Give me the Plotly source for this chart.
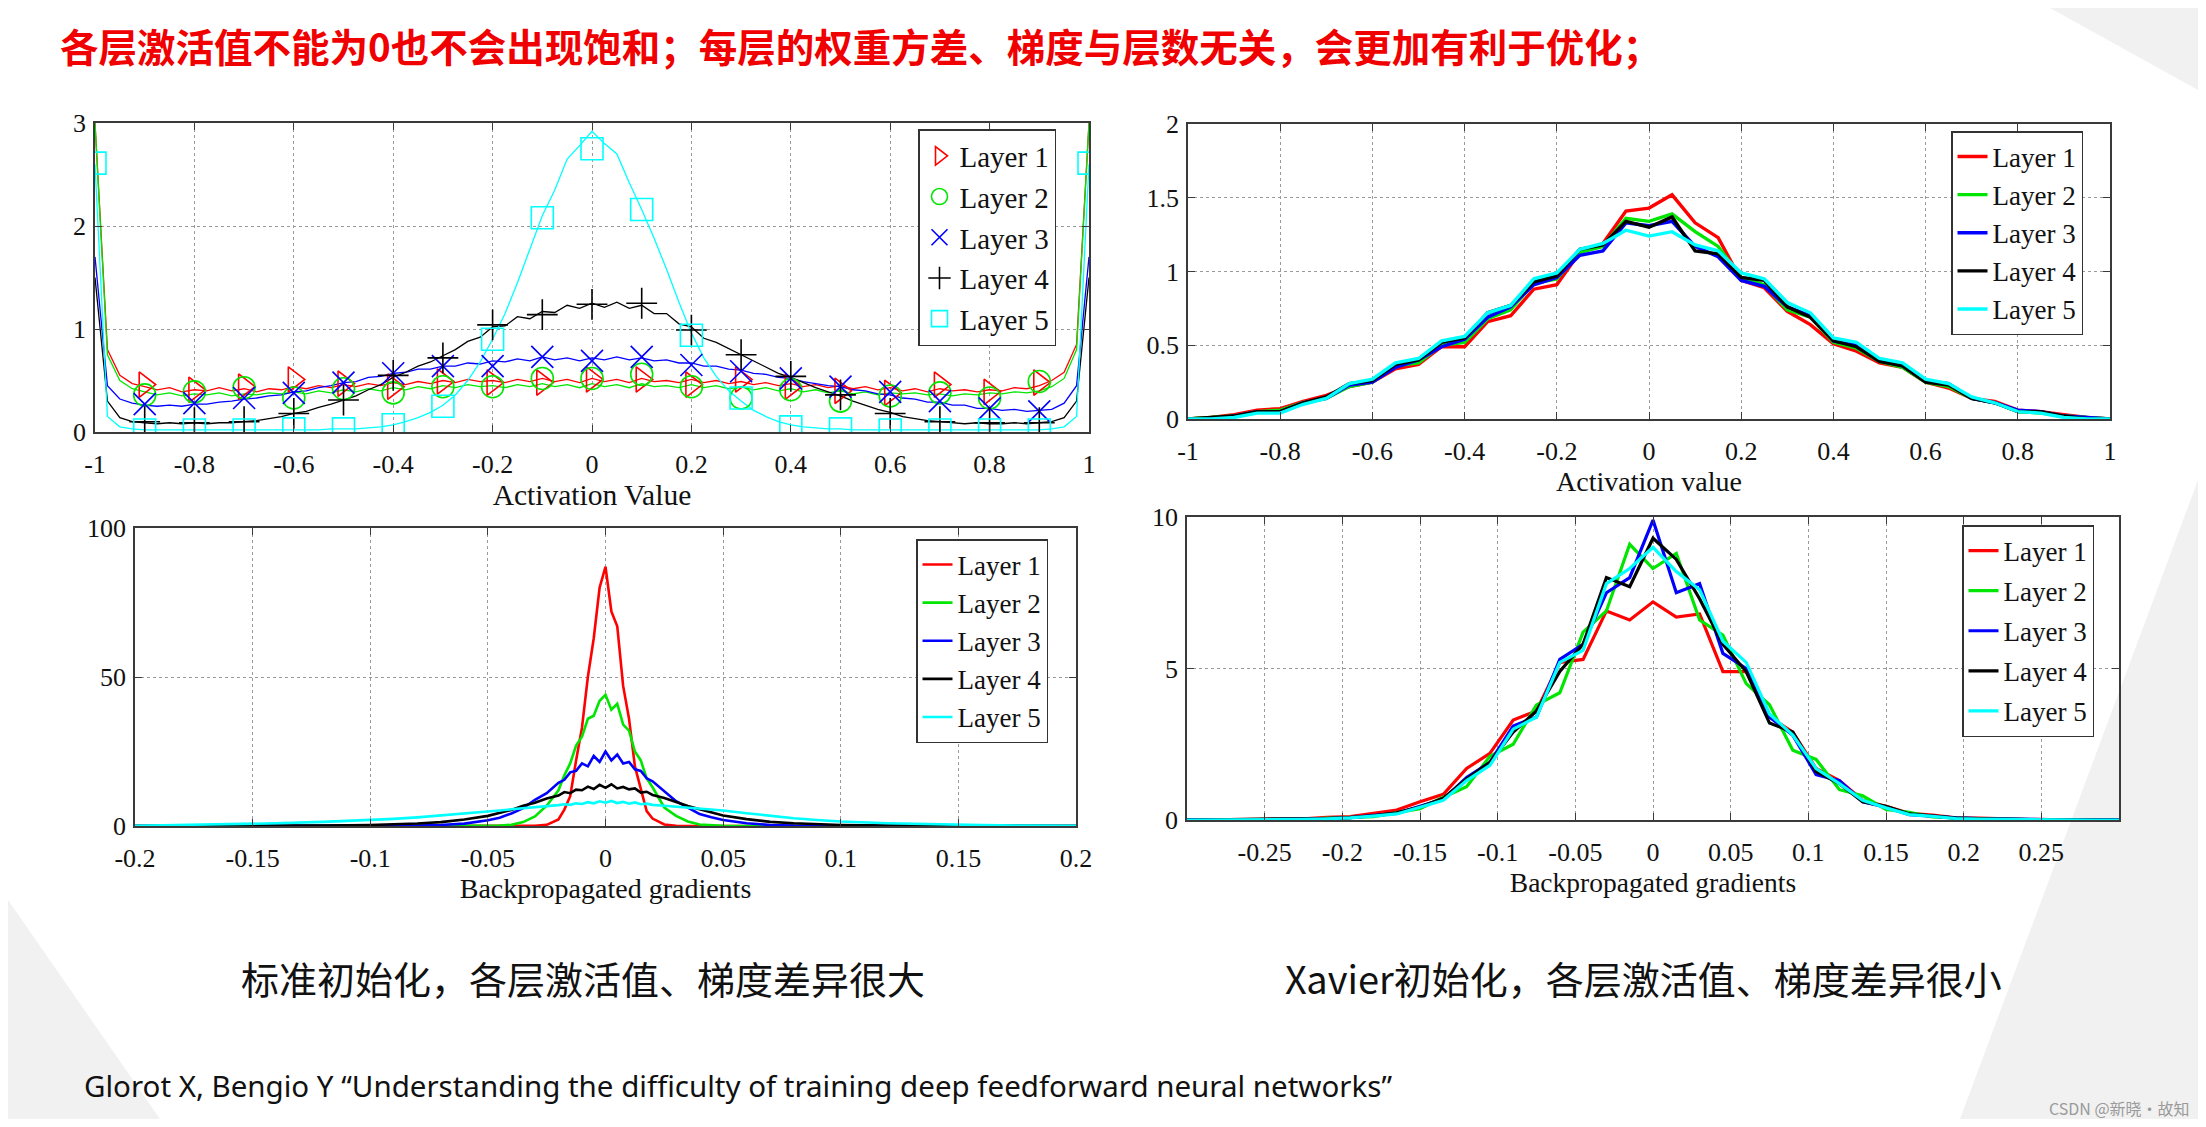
import numpy as np
import plotly.graph_objects as go

# ---------------- data ----------------
LAYERS = ["Layer 1", "Layer 2", "Layer 3", "Layer 4", "Layer 5"]
COLORS = ["#ff0000", "#00e600", "#0000ff", "#000000", "#00ffff"]

# Top-left: standard init, activation values (histogram sampled every 0.025)
x_tl = np.round(np.linspace(-1, 1, 81), 3)
tl_l1 = [3.0, 0.80, 0.55, 0.47, 0.44, 0.41, 0.43, 0.39, 0.41, 0.40,
         0.43, 0.40, 0.42, 0.39, 0.42, 0.41, 0.44, 0.42, 0.45, 0.43,
         0.46, 0.44, 0.47, 0.45, 0.48, 0.46, 0.49, 0.47, 0.50, 0.48,
         0.51, 0.49, 0.50, 0.48, 0.51, 0.49, 0.52, 0.49, 0.51, 0.48,
         0.52, 0.49, 0.51, 0.48, 0.52, 0.49, 0.50, 0.48, 0.51, 0.48,
         0.50, 0.47, 0.49, 0.46, 0.48, 0.45, 0.47, 0.44, 0.46, 0.43,
         0.45, 0.42, 0.44, 0.41, 0.43, 0.40, 0.42, 0.39, 0.42, 0.40,
         0.41, 0.39, 0.41, 0.40, 0.43, 0.42, 0.45, 0.50, 0.58, 0.85,
         3.0]
tl_l2 = [3.0, 0.75, 0.50, 0.42, 0.39, 0.36, 0.38, 0.35, 0.37, 0.36,
         0.38, 0.35, 0.37, 0.36, 0.38, 0.37, 0.39, 0.37, 0.40, 0.38,
         0.41, 0.39, 0.42, 0.40, 0.43, 0.41, 0.44, 0.42, 0.45, 0.43,
         0.46, 0.44, 0.45, 0.43, 0.46, 0.44, 0.47, 0.44, 0.46, 0.43,
         0.47, 0.44, 0.46, 0.43, 0.47, 0.44, 0.45, 0.43, 0.46, 0.43,
         0.45, 0.42, 0.44, 0.41, 0.43, 0.40, 0.42, 0.39, 0.41, 0.38,
         0.40, 0.37, 0.39, 0.36, 0.38, 0.37, 0.38, 0.36, 0.37, 0.35,
         0.37, 0.36, 0.38, 0.37, 0.39, 0.38, 0.40, 0.44, 0.52, 0.80,
         3.0]
tl_l3 = [1.7, 0.45, 0.32, 0.28, 0.26, 0.25, 0.26, 0.25, 0.27, 0.27,
         0.29, 0.30, 0.32, 0.33, 0.35, 0.36, 0.39, 0.40, 0.43, 0.45,
         0.48, 0.49, 0.53, 0.54, 0.57, 0.58, 0.61, 0.61, 0.64, 0.64,
         0.67, 0.66, 0.69, 0.68, 0.71, 0.69, 0.73, 0.70, 0.72, 0.69,
         0.72, 0.70, 0.73, 0.70, 0.72, 0.69, 0.70, 0.67, 0.67, 0.64,
         0.64, 0.61, 0.60, 0.57, 0.56, 0.53, 0.52, 0.49, 0.47, 0.45,
         0.44, 0.41, 0.40, 0.37, 0.36, 0.33, 0.32, 0.29, 0.29, 0.26,
         0.26, 0.23, 0.23, 0.21, 0.22, 0.20, 0.21, 0.22, 0.28, 0.45,
         1.7]
tl_l4 = [1.5, 0.30, 0.14, 0.10, 0.09, 0.08, 0.09, 0.08, 0.09, 0.08,
         0.09, 0.09, 0.10, 0.11, 0.13, 0.15, 0.18, 0.20, 0.24, 0.27,
         0.31, 0.35, 0.41, 0.46, 0.53, 0.58, 0.64, 0.68, 0.74, 0.80,
         0.88, 0.92, 1.02, 1.03, 1.12, 1.10, 1.17, 1.16, 1.23, 1.20,
         1.25, 1.21, 1.26, 1.20, 1.23, 1.15, 1.15, 1.05, 1.02, 0.91,
         0.87, 0.81, 0.75, 0.69, 0.63, 0.57, 0.53, 0.48, 0.43, 0.39,
         0.35, 0.30, 0.26, 0.22, 0.19, 0.15, 0.13, 0.11, 0.10, 0.09,
         0.08, 0.09, 0.08, 0.08, 0.09, 0.08, 0.09, 0.10, 0.14, 0.30,
         1.5]
tl_l5 = [2.6, 0.15, 0.05, 0.03, 0.02, 0.02, 0.02, 0.02, 0.02, 0.02,
         0.02, 0.02, 0.02, 0.02, 0.02, 0.02, 0.02, 0.02, 0.02, 0.03,
         0.03, 0.03, 0.04, 0.05, 0.07, 0.10, 0.14, 0.19, 0.26, 0.36,
         0.50, 0.68, 0.90, 1.15, 1.45, 1.78, 2.10, 2.35, 2.65, 2.78,
         2.92, 2.80, 2.70, 2.42, 2.16, 1.88, 1.58, 1.26, 0.96, 0.72,
         0.54, 0.40, 0.30, 0.21, 0.15, 0.10, 0.07, 0.05, 0.04, 0.03,
         0.03, 0.02, 0.02, 0.02, 0.02, 0.02, 0.02, 0.02, 0.02, 0.02,
         0.02, 0.02, 0.02, 0.02, 0.02, 0.02, 0.02, 0.03, 0.05, 0.15,
         2.6]
# marker positions on the top-left curves
tl_mark_x = np.round(np.linspace(-0.9, 0.9, 19), 2)
tl_mark_l1 = [0.46, 0.41, 0.44, 0.51, 0.47, 0.44, 0.49, 0.48, 0.48, 0.51,
              0.51, 0.46, 0.51, 0.44, 0.40, 0.38, 0.46, 0.39, 0.48]
tl_mark_l2 = [0.36, 0.39, 0.43, 0.33, 0.42, 0.38, 0.44, 0.44, 0.52, 0.52,
              0.56, 0.44, 0.33, 0.41, 0.30, 0.35, 0.38, 0.33, 0.49]
tl_mark_l3 = [0.27, 0.28, 0.33, 0.38, 0.48, 0.57, 0.64, 0.64, 0.73, 0.69,
              0.73, 0.65, 0.59, 0.52, 0.44, 0.39, 0.30, 0.23, 0.20]
tl_mark_l4 = [0.10, 0.09, 0.10, 0.18, 0.31, 0.55, 0.72, 1.04, 1.14, 1.24,
              1.25, 0.99, 0.75, 0.54, 0.36, 0.18, 0.10, 0.09, 0.09]
tl_mark5_x = np.round(np.linspace(-1, 1, 21), 2)
tl_mark_l5 = [2.61, 0.02, 0.02, 0.02, 0.03, 0.03, 0.07, 0.25, 0.90, 2.08,
              2.75, 2.16, 0.94, 0.33, 0.05, 0.03, 0.02, 0.02, 0.02, 0.02,
              2.61]

# Top-right: Xavier init, activation values (every 0.05)
x_tr = np.round(np.linspace(-1, 1, 41), 3)
tr_l1 = [0.00, 0.01, 0.03, 0.06, 0.07, 0.12, 0.16, 0.22, 0.25, 0.34,
         0.37, 0.49, 0.49, 0.66, 0.70, 0.88, 0.91, 1.13, 1.19, 1.41,
         1.43, 1.52, 1.33, 1.23, 0.94, 0.89, 0.73, 0.64, 0.51, 0.46,
         0.38, 0.35, 0.25, 0.21, 0.14, 0.12, 0.06, 0.05, 0.03, 0.01,
         0.00]
tr_l2 = [0.00, 0.01, 0.02, 0.05, 0.06, 0.11, 0.14, 0.22, 0.25, 0.36,
         0.38, 0.50, 0.52, 0.68, 0.74, 0.92, 0.95, 1.13, 1.17, 1.36,
         1.34, 1.39, 1.27, 1.17, 0.96, 0.91, 0.74, 0.69, 0.52, 0.48,
         0.39, 0.35, 0.25, 0.22, 0.14, 0.11, 0.05, 0.04, 0.02, 0.01,
         0.00]
tr_l3 = [0.00, 0.00, 0.02, 0.05, 0.05, 0.11, 0.14, 0.23, 0.25, 0.35,
         0.40, 0.49, 0.54, 0.69, 0.76, 0.91, 0.96, 1.11, 1.14, 1.33,
         1.31, 1.34, 1.17, 1.10, 0.94, 0.90, 0.76, 0.70, 0.53, 0.50,
         0.40, 0.36, 0.26, 0.24, 0.14, 0.11, 0.06, 0.05, 0.02, 0.01,
         0.00]
tr_l4 = [0.00, 0.01, 0.02, 0.05, 0.05, 0.11, 0.15, 0.24, 0.26, 0.37,
         0.40, 0.52, 0.55, 0.72, 0.77, 0.93, 0.97, 1.15, 1.18, 1.34,
         1.30, 1.37, 1.14, 1.12, 0.96, 0.94, 0.76, 0.69, 0.53, 0.49,
         0.39, 0.36, 0.25, 0.23, 0.14, 0.11, 0.05, 0.05, 0.02, 0.00,
         0.00]
tr_l5 = [0.00, 0.00, 0.01, 0.04, 0.04, 0.10, 0.14, 0.24, 0.27, 0.38,
         0.41, 0.53, 0.56, 0.72, 0.77, 0.95, 0.99, 1.15, 1.19, 1.28,
         1.24, 1.27, 1.18, 1.14, 0.99, 0.95, 0.79, 0.72, 0.55, 0.52,
         0.41, 0.38, 0.27, 0.24, 0.15, 0.11, 0.05, 0.04, 0.01, 0.00,
         0.00]

# Bottom-left: standard init, backpropagated gradients
x_bl = [-0.2, -0.18, -0.16, -0.14, -0.12, -0.1, -0.09, -0.08, -0.07, -0.06,
        -0.05, -0.045, -0.04, -0.035, -0.03, -0.025, -0.02, -0.0175, -0.015, -0.0125,
        -0.01, -0.0075, -0.005, -0.0025, 0.0, 0.0025, 0.005, 0.0075, 0.01, 0.0125,
        0.015, 0.0175, 0.02, 0.025, 0.03, 0.035, 0.04, 0.045, 0.05, 0.06,
        0.07, 0.08, 0.09, 0.1, 0.12, 0.14, 0.16, 0.18, 0.2]
bl_l1 = [0, 0, 0, 0, 0, 0, 0, 0, 0, 0,
         0, 0, 0, 0, 0.05, 0.4, 2.2, 5.5, 10, 22,
         33, 50, 63, 80, 87, 72, 67, 47, 36, 20,
         12, 5, 2.5, 0.5, 0.05, 0, 0, 0, 0, 0,
         0, 0, 0, 0, 0, 0, 0, 0, 0]
bl_l2 = [0, 0, 0, 0, 0, 0, 0, 0, 0, 0,
         0.05, 0.15, 0.4, 1.3, 3.2, 6.8, 12, 17, 21, 27,
         30, 36, 37, 42, 44, 39, 41, 34, 32, 25,
         22, 16, 13, 6.2, 3.4, 1.5, 0.5, 0.2, 0.05, 0,
         0, 0, 0, 0, 0, 0, 0, 0, 0]
bl_l3 = [0, 0, 0, 0, 0.01, 0.05, 0.1, 0.15, 0.35, 0.8,
         1.9, 2.8, 4.2, 6.0, 8.8, 11, 14.5, 15.5, 18, 18.5,
         21, 20, 23.5, 21.5, 25, 22, 24, 21, 21.5, 19,
         18.5, 16, 15, 11.5, 8.3, 6.2, 4.0, 2.9, 2.0, 0.9,
         0.35, 0.15, 0.1, 0.05, 0.01, 0, 0, 0, 0]
bl_l4 = [0.0, 0.01, 0.02, 0.05, 0.12, 0.35, 0.55, 0.85, 1.3, 2.2,
         3.4, 4.4, 5.4, 6.8, 7.8, 9.2, 10.2, 11.4, 11.0, 12.2,
         12.0, 13.2, 12.4, 13.8, 12.8, 14.0, 12.6, 13.1, 12.3, 12.6,
         11.2, 11.5, 10.4, 9.4, 8.0, 6.7, 5.6, 4.5, 3.5, 2.3,
         1.4, 0.9, 0.55, 0.35, 0.12, 0.05, 0.02, 0.01, 0.0]
bl_l5 = [0.1, 0.3, 0.6, 0.9, 1.4, 2.0, 2.4, 2.9, 3.5, 4.1,
         4.8, 5.2, 5.6, 5.9, 6.4, 6.6, 7.0, 7.3, 7.1, 7.6,
         7.4, 8.0, 7.6, 8.3, 7.8, 8.4, 7.7, 8.1, 7.5, 7.9,
         7.3, 7.5, 7.1, 6.8, 6.5, 6.1, 5.8, 5.5, 5.2, 4.3,
         3.4, 2.6, 2.0, 1.5, 0.9, 0.55, 0.3, 0.15, 0.08]

# Bottom-right: Xavier init, backpropagated gradients (every 0.015)
x_br = np.round(np.linspace(-0.3, 0.3, 41), 4)
br_l1 = [0.0, 0.01, 0.02, 0.03, 0.05, 0.04, 0.09, 0.11, 0.22, 0.33,
         0.6, 0.85, 1.7, 2.2, 3.3, 3.6, 5.2, 5.3, 6.9, 6.6,
         7.2, 6.7, 6.8, 4.9, 4.9, 3.4, 2.9, 1.7, 1.3, 0.65,
         0.45, 0.22, 0.16, 0.07, 0.06, 0.03, 0.02, 0.01, 0.01, 0.0,
         0.0]
br_l2 = [0.0, 0.0, 0.01, 0.01, 0.02, 0.03, 0.05, 0.08, 0.11, 0.24,
         0.37, 0.75, 1.1, 2.1, 2.5, 3.8, 4.2, 6.2, 6.9, 9.1,
         8.3, 8.8, 6.6, 6.1, 4.5, 3.8, 2.3, 2.0, 1.0, 0.8,
         0.35, 0.25, 0.1, 0.07, 0.03, 0.03, 0.01, 0.01, 0.0, 0.0,
         0.0]
br_l3 = [0.01, 0.0, 0.01, 0.01, 0.02, 0.02, 0.05, 0.08, 0.14, 0.22,
         0.45, 0.68, 1.4, 1.9, 3.1, 3.4, 5.3, 5.8, 7.5, 8.0,
         9.9, 7.5, 7.8, 5.5, 5.0, 3.4, 2.8, 1.5, 1.3, 0.6,
         0.42, 0.18, 0.13, 0.07, 0.05, 0.03, 0.02, 0.01, 0.01, 0.0,
         0.01]
br_l4 = [0.0, 0.01, 0.0, 0.01, 0.02, 0.03, 0.05, 0.08, 0.14, 0.24,
         0.43, 0.72, 1.35, 1.9, 2.9, 3.6, 4.9, 5.8, 8.0, 7.7,
         9.3, 8.6, 7.3, 5.8, 4.9, 3.2, 2.9, 1.6, 1.2, 0.6,
         0.45, 0.2, 0.13, 0.06, 0.05, 0.02, 0.01, 0.01, 0.0, 0.01,
         0.0]
br_l5 = [0.0, 0.0, 0.0, 0.01, 0.01, 0.02, 0.04, 0.07, 0.13, 0.2,
         0.42, 0.65, 1.3, 1.8, 3.0, 3.4, 5.2, 5.6, 7.8, 8.3,
         9.0, 8.2, 7.6, 5.9, 5.2, 3.5, 2.8, 1.7, 1.2, 0.65,
         0.4, 0.18, 0.12, 0.05, 0.03, 0.02, 0.01, 0.0, 0.0, 0.0,
         0.0]

# tick labels
act_ticks = [-1, -0.8, -0.6, -0.4, -0.2, 0, 0.2, 0.4, 0.6, 0.8, 1]
act_ticktext = ["-1", "-0.8", "-0.6", "-0.4", "-0.2", "0", "0.2", "0.4", "0.6", "0.8", "1"]
bl_xticks = [-0.2, -0.15, -0.1, -0.05, 0, 0.05, 0.1, 0.15, 0.2]
bl_xticktext = ["-0.2", "-0.15", "-0.1", "-0.05", "0", "0.05", "0.1", "0.15", "0.2"]
br_xticks = [-0.25, -0.2, -0.15, -0.1, -0.05, 0, 0.05, 0.1, 0.15, 0.2, 0.25]
br_xticktext = ["-0.25", "-0.2", "-0.15", "-0.1", "-0.05", "0", "0.05", "0.1", "0.15", "0.2", "0.25"]
tl_yticks = [0, 1, 2, 3]
tr_yticks = [0, 0.5, 1, 1.5, 2]
tr_yticktext = ["0", "0.5", "1", "1.5", "2"]
bl_yticks = [0, 50, 100]
br_yticks = [0, 5, 10]

TITLE = "各层激活值不能为0也不会出现饱和；每层的权重方差、梯度与层数无关，会更加有利于优化；"
CAPTION_L = "标准初始化，各层激活值、梯度差异很大"
CAPTION_R = "Xavier初始化，各层激活值、梯度差异很小"
CITATION = "Glorot X, Bengio Y \u201cUnderstanding the difficulty of training deep feedforward neural networks\u201d"
WATERMARK = "CSDN @新晓·故知"

# ---------------- figure ----------------
PAGE_OFF = 8               # default body margin of the html page
W, H = 2206 - 2 * PAGE_OFF, 1127 - 2 * PAGE_OFF
fig = go.Figure()

SERIF = "Liberation Serif"

# top-left lines
for name, col, ys in zip(LAYERS, COLORS, [tl_l1, tl_l2, tl_l3, tl_l4, tl_l5]):
    fig.add_trace(go.Scatter(x=x_tl, y=ys, mode="lines", line=dict(color=col, width=1.3),
                             showlegend=False, xaxis="x", yaxis="y", hoverinfo="skip"))
# top-left markers
symbols = ["triangle-right-open", "circle-open", "x-thin-open", "cross-thin-open", "square-open"]
marks = [(tl_mark_x, tl_mark_l1), (tl_mark_x, tl_mark_l2), (tl_mark_x, tl_mark_l3),
         (tl_mark_x, tl_mark_l4), (tl_mark5_x, tl_mark_l5)]
for i, (name, col, sym, (mx, my)) in enumerate(zip(LAYERS, COLORS, symbols, marks)):
    fig.add_trace(go.Scatter(x=mx, y=my, mode="markers", name=name,
                             marker=dict(symbol=sym, size=22, color=col, line=dict(color=col, width=1.6)),
                             legend="legend", legendgroup=f"tl{i}", xaxis="x", yaxis="y"))

def add_lines(xs, series, xa, ya, leg, width):
    for i, (name, col, ys) in enumerate(zip(LAYERS, COLORS, series)):
        fig.add_trace(go.Scatter(x=xs, y=ys, mode="lines", name=name,
                                 line=dict(color=col, width=width),
                                 legend=leg, legendgroup=f"{leg}{i}", xaxis=xa, yaxis=ya))

add_lines(x_tr, [tr_l1, tr_l2, tr_l3, tr_l4, tr_l5], "x2", "y2", "legend2", 3.4)
add_lines(x_bl, [bl_l1, bl_l2, bl_l3, bl_l4, bl_l5], "x3", "y3", "legend3", 2.6)
add_lines(x_br, [br_l1, br_l2, br_l3, br_l4, br_l5], "x4", "y4", "legend4", 3.2)

def px_x(p):
    return (p - PAGE_OFF) / W

def px_y(p):
    return 1 - (p - PAGE_OFF) / H

ax_common = dict(showline=True, linecolor="#3a3a3a", linewidth=1.5, mirror="ticks",
                 ticks="inside", ticklen=7, tickcolor="#3a3a3a", tickwidth=1.2,
                 showgrid=True, gridcolor="#9a9a9a", griddash="dot", gridwidth=1,
                 zeroline=False, fixedrange=True, automargin=False,
                 tickfont=dict(family=SERIF, size=26, color="#111"))

def xaxis(dom, rng, tv, tt, title, tsize, standoff, anchor):
    d = dict(ax_common)
    d.update(domain=dom, range=rng, tickvals=tv, ticktext=tt, anchor=anchor,
             ticklabelstandoff=8,
             title=dict(text=title, font=dict(family=SERIF, size=tsize, color="#111"),
                        standoff=standoff))
    return d

def yaxis(dom, rng, tv, tt, anchor):
    d = dict(ax_common)
    d.update(domain=dom, range=rng, tickvals=tv, ticktext=tt, anchor=anchor, ticklabelstandoff=2)
    return d

tl_dx = [px_x(95), px_x(1089)]; tl_dy = [px_y(432), px_y(123)]
tr_dx = [px_x(1188), px_x(2110)]; tr_dy = [px_y(419), px_y(124)]
bl_dx = [px_x(135), px_x(1076)]; bl_dy = [px_y(826), px_y(528)]
br_dx = [px_x(1187), px_x(2119)]; br_dy = [px_y(820), px_y(517)]

def legend(right, top, gap, size):
    return dict(x=px_x(right), xanchor="right", y=px_y(top), yanchor="top",
                bordercolor="#333", borderwidth=1.5, bgcolor="white",
                font=dict(family=SERIF, size=size, color="#111"),
                tracegroupgap=gap, itemwidth=30, itemclick=False, itemdoubleclick=False)

fig.update_layout(
    width=W, height=H, margin=dict(l=0, r=0, t=0, b=0, autoexpand=False),
    paper_bgcolor="white", plot_bgcolor="white",
    xaxis=xaxis(tl_dx, [-1, 1], act_ticks, act_ticktext, "Activation Value", 29.5, 2, "y"),
    yaxis=yaxis(tl_dy, [0, 3], tl_yticks, [str(v) for v in tl_yticks], "x"),
    xaxis2=xaxis(tr_dx, [-1, 1], act_ticks, act_ticktext, "Activation value", 28, 0, "y2"),
    yaxis2=yaxis(tr_dy, [0, 2], tr_yticks, tr_yticktext, "x2"),
    xaxis3=xaxis(bl_dx, [-0.2, 0.2], bl_xticks, bl_xticktext, "Backpropagated gradients", 28, 4, "y3"),
    yaxis3=yaxis(bl_dy, [0, 100], bl_yticks, [str(v) for v in bl_yticks], "x3"),
    xaxis4=xaxis(br_dx, [-0.3, 0.3], br_xticks, br_xticktext, "Backpropagated gradients", 27.5, 4, "y4"),
    yaxis4=yaxis(br_dy, [0, 10], br_yticks, [str(v) for v in br_yticks], "x4"),
    legend=legend(1056, 129, 0, 29),
    legend2=legend(2083, 131, 0, 27),
    legend3=legend(1048, 539, 0, 27),
    legend4=legend(2094, 525, 2, 27),
    showlegend=True,
)

# faint slide decorations
shapes = [
    dict(type="path", path=f"M {px_x(1960)},0 L 1,{px_y(480)} L 1,0 Z"),
    dict(type="path", path=f"M 0,{px_y(900)} L {px_x(160)},0 L 0,0 Z"),
    dict(type="path", path=f"M {px_x(2050)},1 L 1,1 L 1,{px_y(90)} Z"),
]
for s in shapes:
    s.update(xref="paper", yref="paper", fillcolor="#f1f1f1", line=dict(width=0), layer="below")
fig.update_layout(shapes=shapes)

annotations = [
    dict(text=f"<b>{TITLE}</b>", x=px_x(58), y=px_y(45), xanchor="left", yanchor="middle",
         font=dict(family="Noto Sans CJK SC", size=38.5, color="#f00000")),
    dict(text=CAPTION_L, x=px_x(239), y=px_y(977), xanchor="left", yanchor="middle",
         font=dict(family="Noto Sans CJK SC", size=38, color="#111")),
    dict(text=CAPTION_R, x=px_x(1283), y=px_y(977), xanchor="left", yanchor="middle",
         font=dict(family="Noto Sans CJK SC", size=38, color="#111")),
    dict(text=CITATION, x=px_x(82), y=px_y(1085), xanchor="left", yanchor="middle",
         font=dict(family="Noto Sans", size=29.5, color="#111")),
    dict(text=WATERMARK, x=px_x(2192), y=px_y(1108), xanchor="right", yanchor="middle",
         font=dict(family="Noto Sans CJK SC", size=16, color="#9a9a9a")),
]
for a in annotations:
    a.update(xref="paper", yref="paper", showarrow=False)
fig.update_layout(annotations=annotations)

fig.write_html("out.html", config={"displayModeBar": False})
